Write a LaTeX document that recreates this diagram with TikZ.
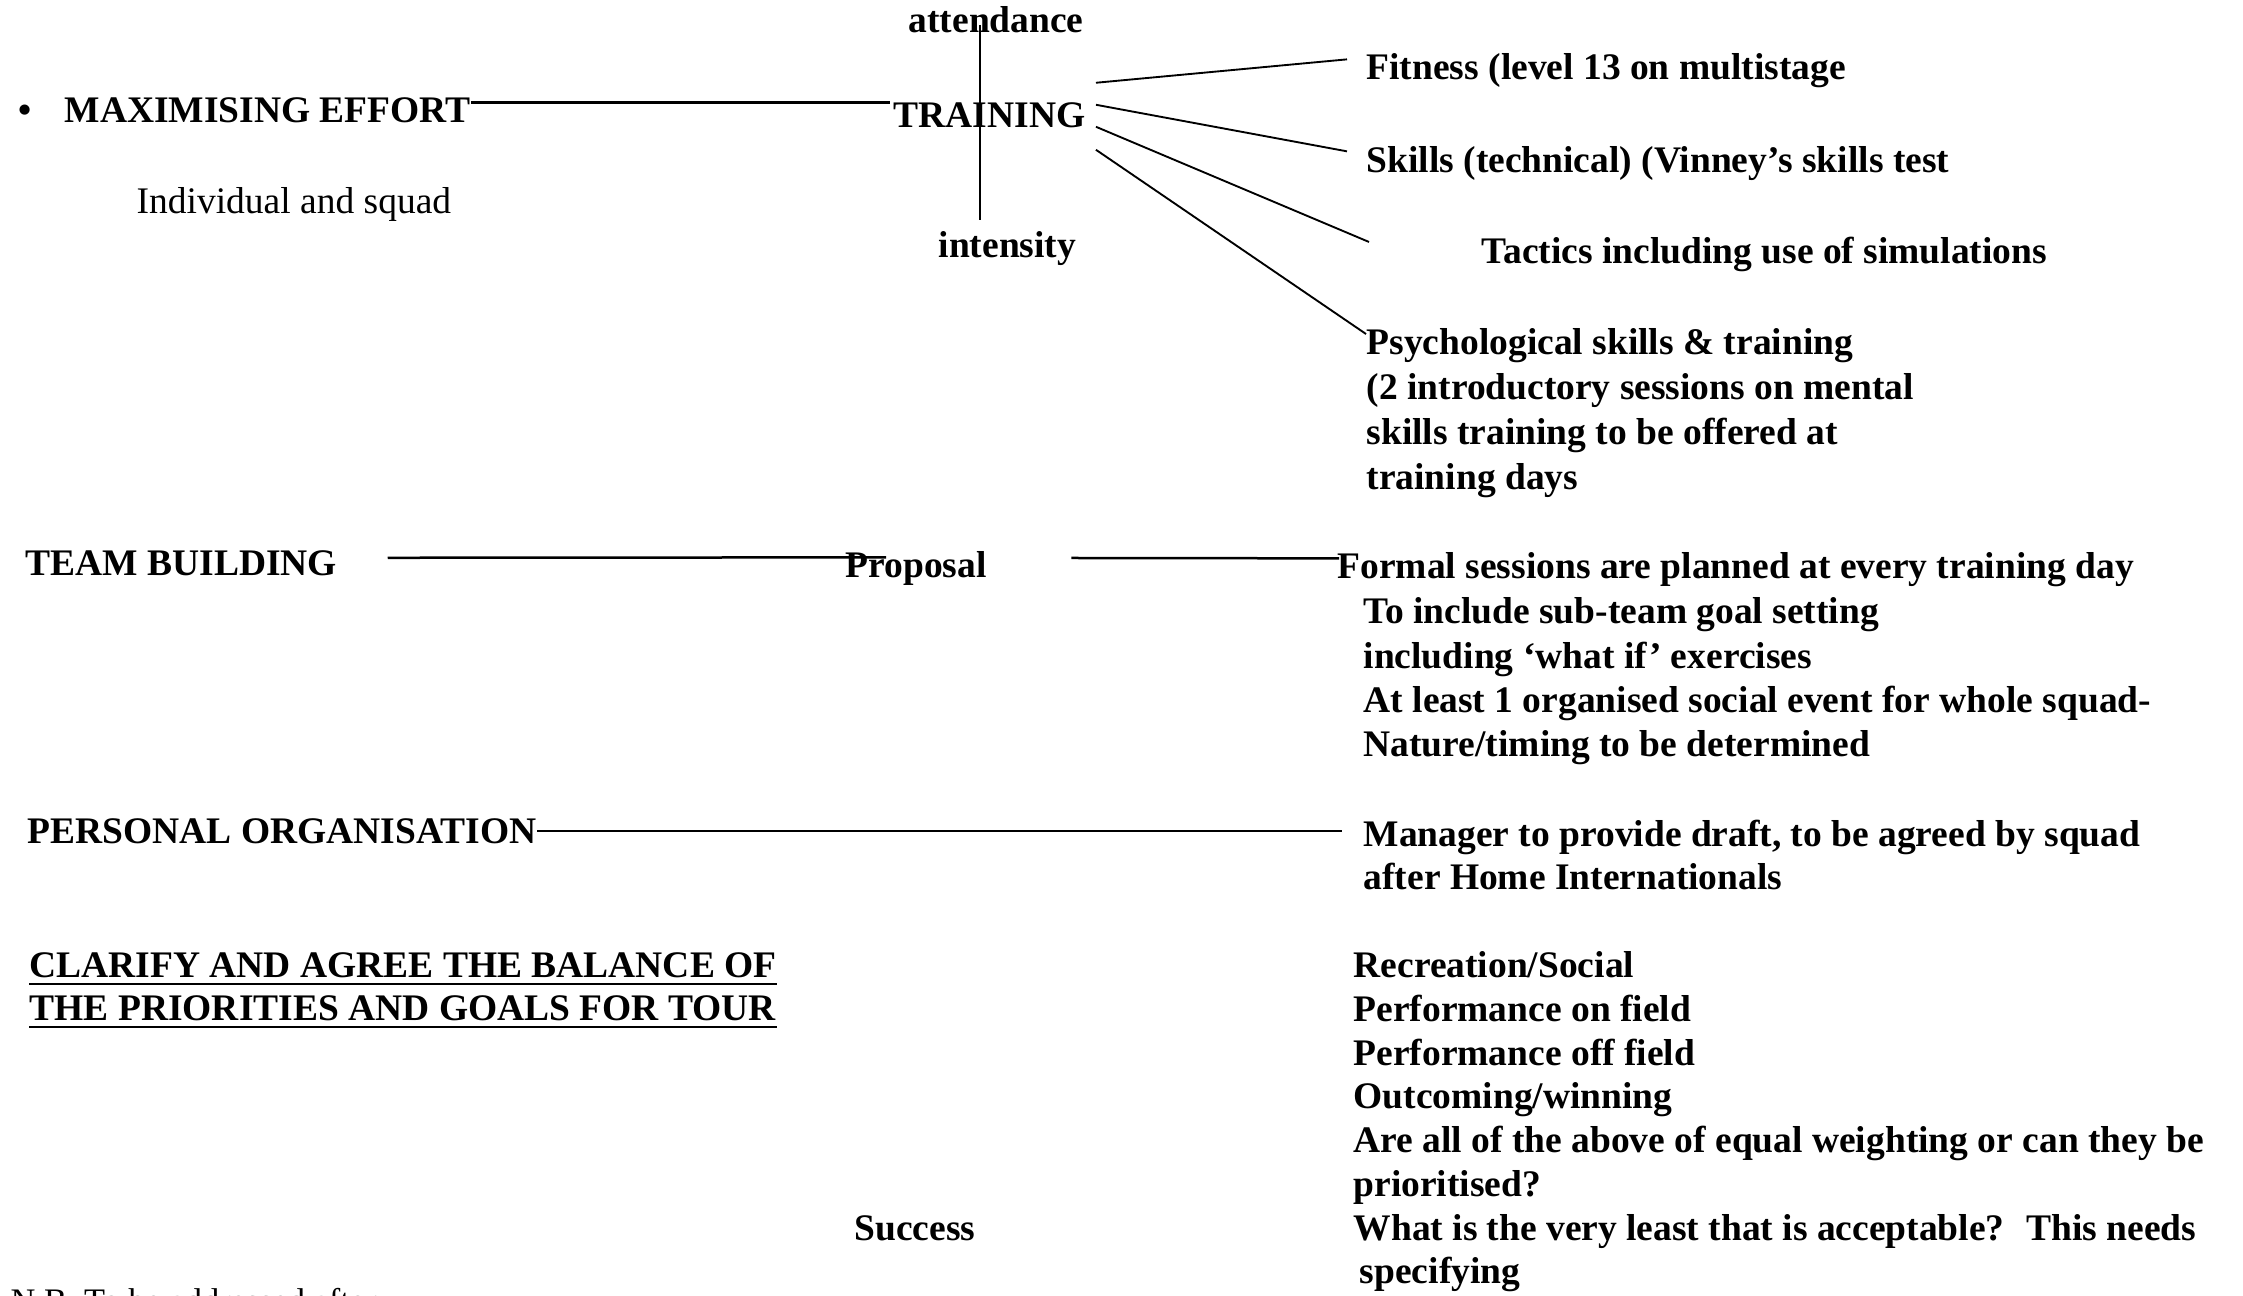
\documentclass[tikz,border=0pt]{standalone}
\usepackage{fontspec}
\setmainfont{Liberation Serif}
\usetikzlibrary{calc}

\tikzset{
  txt/.style={anchor=base west, inner sep=0pt, align=left,
    font=\fontsize{12}{14.24}\selectfont\bfseries},
  block/.style={txt, anchor=north west},
  plain/.style={txt, font=\fontsize{12}{14.24}\selectfont},
  link/.style={line width=0.8pt},
  ray/.style={line width=0.6pt},
  uline/.style={line width=0.9pt}
}

\begin{document}
\begin{tikzpicture}[x=0.32pt,y=-0.32pt]
\useasboundingbox (0,0) rectangle (2243,1295);
\clip (0,0) rectangle (2243,1295);

\node[txt] (bullet) at (18,123) {\textbullet};
\node[txt] (maxeff) at (64,123) {MAXIMISING EFFORT};
\node[plain] (indiv) at (136,213) {Individual and squad};
\node[txt] (attendance) at (908,33) {attendance};
\node[txt] (training) at (893,127) {TRAINING};
\node[txt] (intensity) at (938,257) {intensity};
\coordinate (vtop) at (980,25);
\coordinate (vbot) at (980,220);

\node[txt] (fitness) at (1366,80) {Fitness (level 13 on multistage};
\node[txt] (skills) at (1366,173) {Skills (technical) (Vinney’s skills test};
\node[txt] (tactics) at (1481,263) {Tactics including use of simulations};
\node[block, font=\fontsize{12}{14.4}\selectfont\bfseries] (psych) at (1366,328)
  {Psychological skills \& training\\(2 introductory sessions on mental\\skills training to be offered at\\training days};

\node[txt] (team) at (25,575) {TEAM BUILDING};
\node[txt] (proposal) at (845,577) {Proposal};
\node[txt] (formal) at (1337,578) {Formal sessions are planned at every training day};
\node[block, font=\fontsize{12}{14.2}\selectfont\bfseries] (formalrest) at (1363,597)
  {To include sub-team goal setting\\including ‘what if’ exercises\\At least 1 organised social event for whole squad-\\Nature/timing to be determined};

\node[txt] (personal) at (27,843) {PERSONAL ORGANISATION};
\node[block, font=\fontsize{12}{13.8}\selectfont\bfseries] (manager) at (1363,819)
  {Manager to provide draft, to be agreed by squad\\after Home Internationals};

\node[txt] (clar1) at (29,977) {CLARIFY AND AGREE THE BALANCE OF};
\node[txt] (clar2) at (29,1020) {THE PRIORITIES AND GOALS FOR TOUR};
\node[txt] (success) at (854,1240) {Success};
\node[block, font=\fontsize{12}{14}\selectfont\bfseries] (goals) at (1353,951)
  {Recreation/Social\\Performance on field\\Performance off field\\Outcoming/winning\\Are all of the above of equal weighting or can they be\\prioritised?\\What is the very least that is acceptable?~ This needs\\\hspace*{2pt}specifying};
\node[plain, font=\fontsize{11}{13}\selectfont] (nb) at (10,1312) {N.B. To be addressed after};

\draw[link] ($(maxeff.north east)+(0,5)$) -- ($(maxeff.north east -| training.west)+(-3,5)$);
\draw[ray] (vtop) -- (vbot);
\foreach \dy/\to/\ex/\ey in {-32/fitness/-19/6, -10/skills/-19/5, 12/tactics/-112/6, 35/psych/0/6}
  \draw[ray] ($(training.east)+(10,\dy)$) -- ($(\to.north west)+(\ex,\ey)$);

\draw[link] ($(team.east)+(50,-5)$) -- ($(proposal.north west)+(41,7)$);
\draw[link] ($(proposal.east)+(84,-10)$) -- ($(formal.north west)+(2,7)$);
\draw[link] (personal.east) -- ($(personal.east -| manager.west)+(-21,0)$);

\draw[uline] ($(clar1.south west)+(0,6)$) -- ($(clar1.south east)+(0,6)$);
\draw[uline] ($(clar2.south west)+(0,6)$) -- ($(clar2.south east)+(0,6)$);
\end{tikzpicture}
\end{document}
